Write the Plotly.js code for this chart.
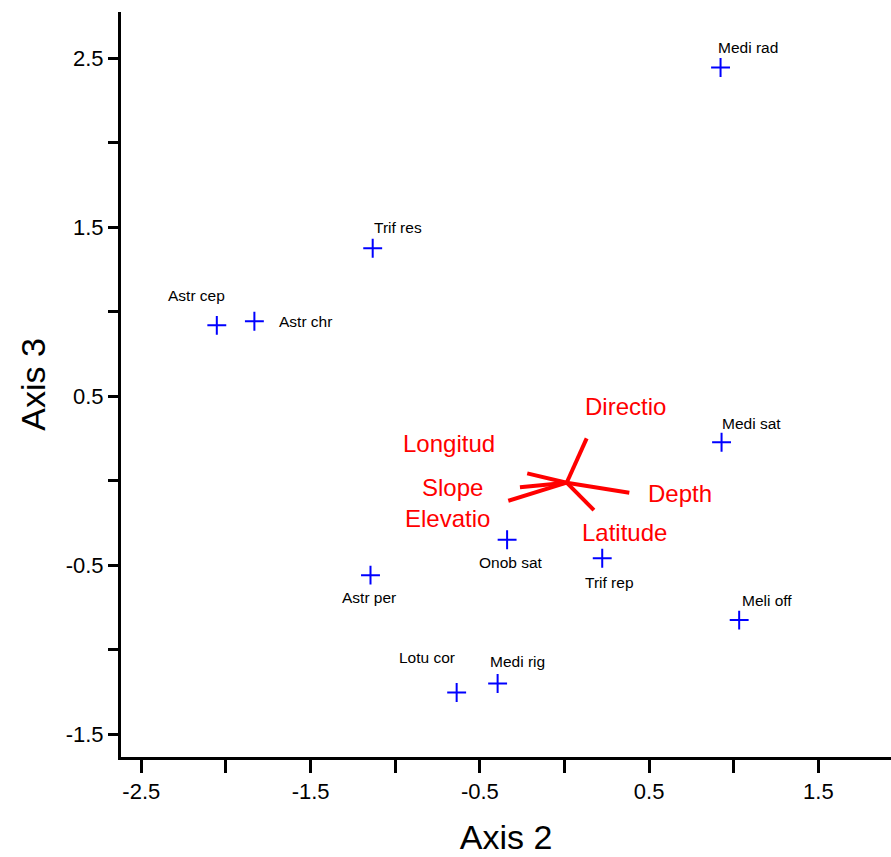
<!DOCTYPE html>
<html>
<head>
<meta charset="utf-8">
<script src="https://cdn.plot.ly/plotly-3.0.1.min.js"></script>
<style>html,body{margin:0;padding:0;background:#fff;}#chart{width:891px;height:857px;}</style>
</head>
<body>
<div id="chart"></div>
<script>
// Species scores (Axis 2, Axis 3)
var speciesNames = ["Medi rad","Trif res","Astr cep","Astr chr","Medi sat","Onob sat","Trif rep","Astr per","Meli off","Medi rig","Lotu cor"];
var speciesX = [0.922, -1.133, -2.054, -1.832, 0.928, -0.339, 0.223, -1.146, 1.032, -0.395, -0.637];
var speciesY = [2.446, 1.376, 0.920, 0.944, 0.228, -0.349, -0.458, -0.558, -0.824, -1.199, -1.252];

// Environmental vectors (joint plot)
var vectorNames = ["Directio","Longitud","Slope","Elevatio","Depth","Latitude"];
var vectorOriginX = [0.013];
var vectorOriginY = [-0.011];
var vectorEndX = [0.131, -0.220, -0.263, -0.332, 0.383, 0.174];
var vectorEndY = [0.251, 0.044, -0.038, -0.118, -0.070, -0.173];

// Axis ticks
var xTickVals = [-2.5, -2.0, -1.5, -1.0, -0.5, 0.0, 0.5, 1.0, 1.5];
var xTickText = ["-2.5", "", "-1.5", "", "-0.5", "", "0.5", "", "1.5"];
var yTickVals = [-1.5, -1.0, -0.5, 0.0, 0.5, 1.0, 1.5, 2.0, 2.5];
var yTickText = ["-1.5", "", "-0.5", "", "0.5", "", "1.5", "", "2.5"];

// Label placement styles (pixel offsets from the point)
var speciesLabelShiftX = [27, 25, -20, 51, 30, 4, 7, -2, 28, 20, -30];
var speciesLabelShiftY = [20, 21, 30, 0, 19, -23, -24, -22, 20, 22, 35];
var vectorLabelShiftX = [39, -78, -67, -61, 51, 31];
var vectorLabelShiftY = [32, 30, 0, -18, -1, -22];

var traces = [];
for (var i = 0; i < vectorNames.length; i++) {
  traces.push({
    type: 'scatter', mode: 'lines',
    x: [vectorOriginX[0], vectorEndX[i]],
    y: [vectorOriginY[0], vectorEndY[i]],
    line: {color: '#ff0000', width: 4},
    hoverinfo: 'skip', showlegend: false
  });
}
traces.push({
  type: 'scatter', mode: 'markers',
  x: speciesX, y: speciesY, text: speciesNames,
  marker: {symbol: 'cross-thin-open', size: 13.5, color: '#0000ff', line: {color: '#0000ff', width: 2}},
  showlegend: false
});

var annotations = [];
for (var j = 0; j < speciesNames.length; j++) {
  annotations.push({
    x: speciesX[j], y: speciesY[j], xref: 'x', yref: 'y',
    text: speciesNames[j], showarrow: false,
    xanchor: 'center', yanchor: 'middle',
    xshift: speciesLabelShiftX[j], yshift: speciesLabelShiftY[j],
    font: {family: 'Liberation Sans, Arial, sans-serif', size: 15.5, color: '#000000'}
  });
}
for (var k = 0; k < vectorNames.length; k++) {
  annotations.push({
    x: vectorEndX[k], y: vectorEndY[k], xref: 'x', yref: 'y',
    text: vectorNames[k], showarrow: false,
    xanchor: 'center', yanchor: 'middle',
    xshift: vectorLabelShiftX[k], yshift: vectorLabelShiftY[k],
    font: {family: 'Liberation Sans, Arial, sans-serif', size: 24, color: '#ff0000'}
  });
}

var layout = {
  width: 891, height: 857,
  margin: {l: 121, r: 0, t: 12, b: 100},
  paper_bgcolor: '#ffffff', plot_bgcolor: '#ffffff',
  font: {family: 'Liberation Sans, Arial, sans-serif', color: '#000000'},
  xaxis: {
    range: [-2.620, 1.929],
    tickmode: 'array', tickvals: xTickVals, ticktext: xTickText,
    ticks: 'outside', ticklen: 13, tickwidth: 3, tickcolor: '#000000',
    showline: true, linewidth: 3, linecolor: '#000000',
    showgrid: false, zeroline: false,
    tickfont: {size: 22, family: 'Liberation Sans, Arial, sans-serif'},
    title: {text: 'Axis 2', font: {size: 34, family: 'Liberation Sans, Arial, sans-serif'}, standoff: 22}
  },
  yaxis: {
    range: [-1.634, 2.774],
    tickmode: 'array', tickvals: yTickVals, ticktext: yTickText,
    ticks: 'outside', ticklen: 10, tickwidth: 3, tickcolor: '#000000',
    showline: true, linewidth: 3, linecolor: '#000000',
    showgrid: false, zeroline: false,
    tickfont: {size: 22, family: 'Liberation Sans, Arial, sans-serif'},
    title: {text: 'Axis 3', font: {size: 34, family: 'Liberation Sans, Arial, sans-serif'}, standoff: 10}
  },
  annotations: annotations,
  showlegend: false
};

Plotly.newPlot('chart', traces, layout, {displayModeBar: false, staticPlot: true});
</script>
</body>
</html>
